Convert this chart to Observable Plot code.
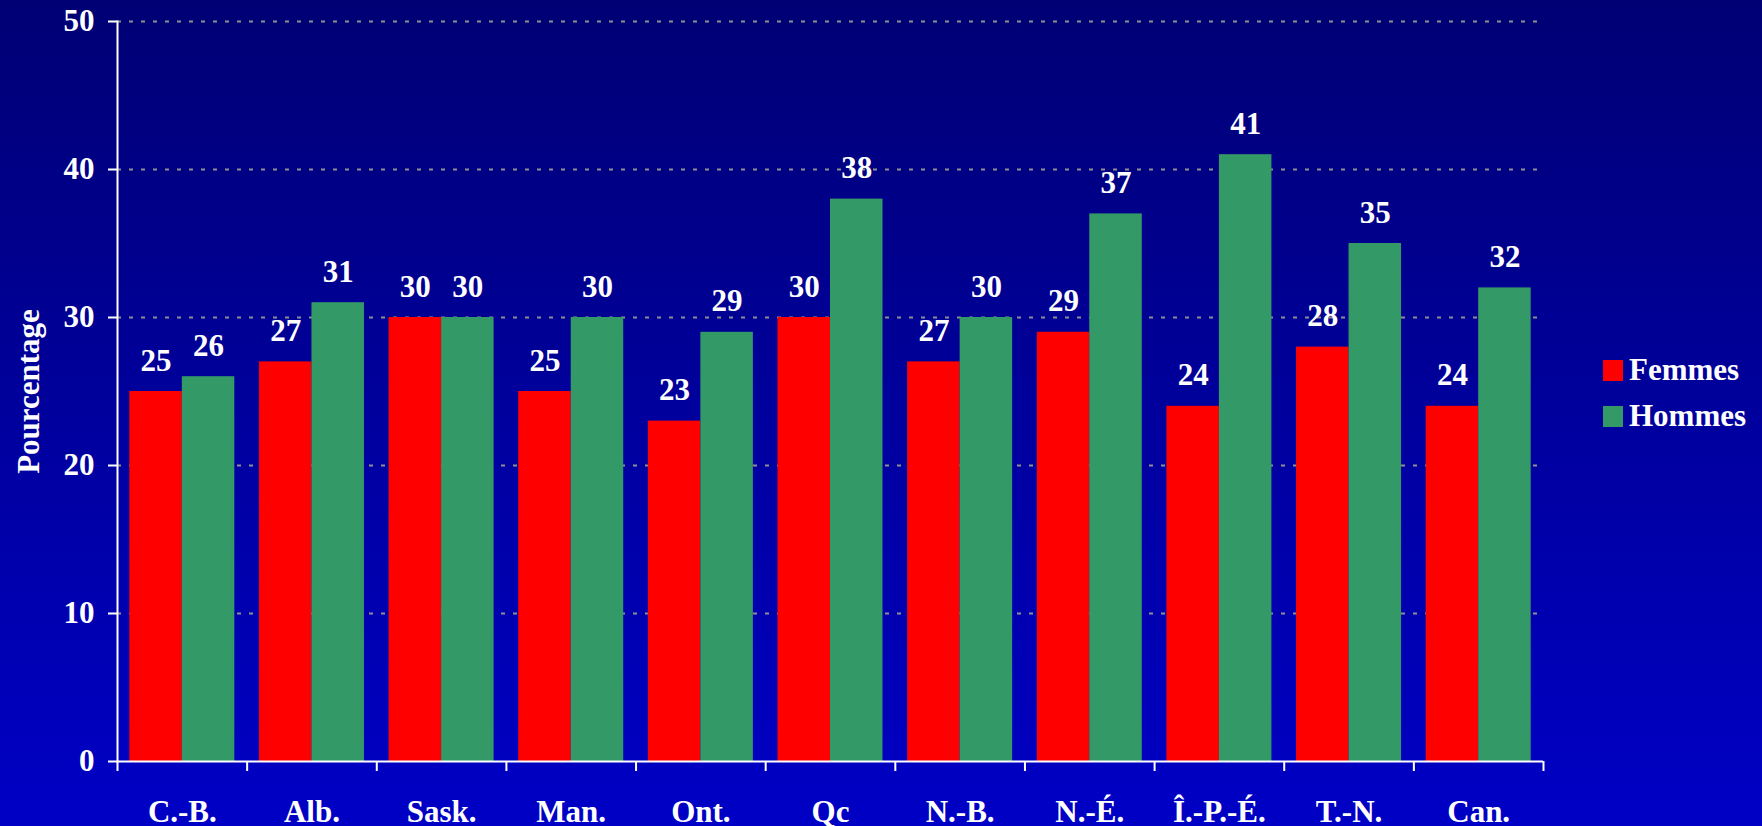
<!DOCTYPE html>
<html>
<head>
<meta charset="utf-8">
<script src="https://cdn.jsdelivr.net/npm/d3@7"></script>
<script src="https://cdn.jsdelivr.net/npm/@observablehq/plot@0.6"></script>
<style>
  html, body { margin: 0; padding: 0; }
  body {
    width: 1762px; height: 826px; overflow: hidden; position: relative;
    background: linear-gradient(to bottom, #000074, #0000c6);
    font-family: "Liberation Serif", "Times New Roman", serif;
  }
  #chart { position: absolute; left: 0; top: 0; }
  #legend { position: absolute; left: 1603px; top: 347px; color: white;
    font-family: "Liberation Serif", "Times New Roman", serif; font-weight: bold; font-size: 31px; }
  #legend .row { display: flex; align-items: center; height: 46px; }
  #legend .sw { width: 20px; height: 21px; margin-right: 6px; }
</style>
</head>
<body>
<div id="chart"></div>
<div id="legend"></div>
<script>
const categories = ["C.-B.", "Alb.", "Sask.", "Man.", "Ont.", "Qc", "N.-B.", "N.-É.", "Î.-P.-É.", "T.-N.", "Can."];
const femmes = [25, 27, 30, 25, 23, 30, 27, 29, 24, 28, 24];
const hommes = [26, 31, 30, 30, 29, 38, 30, 37, 41, 35, 32];
const seriesNames = ["Femmes", "Hommes"];
const seriesColors = ["#ff0000", "#339966"];
const yTicks = [0, 10, 20, 30, 40, 50];
const yTitle = "Pourcentage";

const W = 1762, H = 826;
const mL = 117, mR = 219, mT = 21, mB = 65;
const step = (W - mL - mR) / categories.length;
const pInner = 0.595;
const barW = step * (1 - pInner);

const rowsF = categories.map((c, i) => ({cat: c, sex: seriesNames[0], v: femmes[i]}));
const rowsH = categories.map((c, i) => ({cat: c, sex: seriesNames[1], v: hommes[i]}));

const font = {fontFamily: "Liberation Serif, Times New Roman, serif", fontWeight: "bold", fontSize: 31};

const chart = Plot.plot({
  width: W, height: H,
  marginLeft: mL, marginRight: mR, marginTop: mT, marginBottom: mB,
  style: {background: "transparent", color: "white", fontFamily: font.fontFamily, fontWeight: "bold", fontSize: "31px", overflow: "visible"},
  x: {domain: categories, paddingInner: pInner, paddingOuter: pInner / 2, round: false, label: null},
  y: {domain: [0, 50], label: null},
  color: {domain: seriesNames, range: seriesColors},
  marks: [
    Plot.gridY(yTicks.filter(d => d > 0), {stroke: "#8f8f8f", strokeOpacity: 1, strokeWidth: 2, strokeDasharray: "4,8"}),
    Plot.barY(rowsF, {x: "cat", y: "v", fill: "sex", dx: -barW / 2}),
    Plot.barY(rowsH, {x: "cat", y: "v", fill: "sex", dx: barW / 2}),
    Plot.text(rowsF, {x: "cat", y: "v", text: d => String(d.v), dx: -barW / 2, dy: -21, lineAnchor: "bottom", fill: "white", ...font}),
    Plot.text(rowsH, {x: "cat", y: "v", text: d => String(d.v), dx: barW / 2, dy: -21, lineAnchor: "bottom", fill: "white", ...font}),
    Plot.frame({anchor: "left", stroke: "white", strokeWidth: 2}),
    Plot.ruleY([0], {stroke: "white", strokeWidth: 2}),
    Plot.axisY({ticks: yTicks, tickSize: 9, tickPadding: 14, strokeWidth: 2, stroke: "white", fill: "white", label: null, ...font}),
    Plot.axisX({tickSize: 10, strokeWidth: 2, stroke: "white", tickFormat: () => "", dx: -step / 2, label: null}),
    Plot.axisX({ticks: [categories[categories.length - 1]], tickSize: 10, strokeWidth: 2, stroke: "white", tickFormat: () => "", dx: step / 2, label: null}),
    Plot.axisX({tickSize: 0, tickPadding: 38, fill: "white", label: null, ...font}),
    Plot.text([yTitle], {frameAnchor: "left", textAnchor: "middle", lineAnchor: "middle", rotate: -90, dx: -88, fill: "white", ...font})
  ]
});
document.getElementById("chart").appendChild(chart);

const colorScale = chart.scale("color");
const legend = d3.select("#legend");
seriesNames.forEach((name, i) => {
  const row = legend.append("div").attr("class", "row");
  row.append("div").attr("class", "sw").style("background", colorScale.range[i]);
  row.append("span").text(name);
});
</script>
</body>
</html>
